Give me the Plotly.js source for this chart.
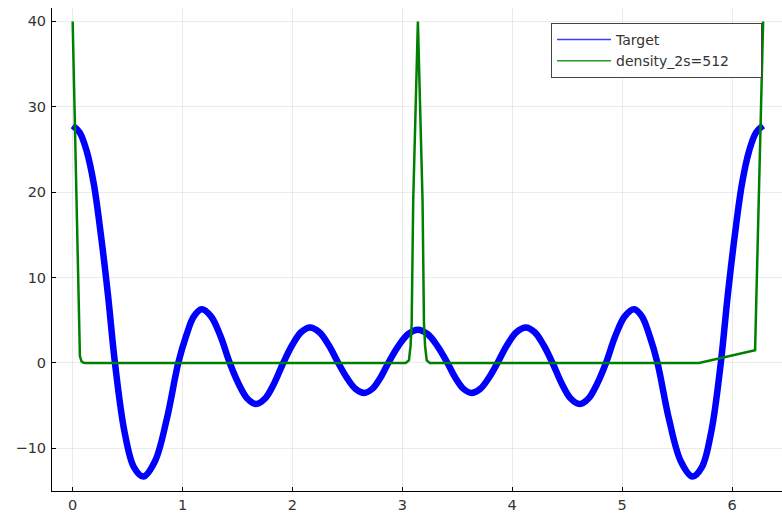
<!DOCTYPE html>
<html>
<head>
<meta charset="utf-8">
<script src="https://cdn.plot.ly/plotly-3.0.1.min.js"></script>
<style>
  html, body { margin: 0; padding: 0; background: #fff; }
  #plot { width: 782px; height: 515px; }
</style>
</head>
<body>
<div id="plot"></div>
<script>
// Target curve samples over [0, 2π]
const targetX = [
  0, 0.064, 0.128, 0.192, 0.257, 0.321, 0.385, 0.471, 0.557, 0.643, 0.749, 0.855, 0.961,
  1.032, 1.103, 1.174, 1.259, 1.345, 1.43, 1.509, 1.589, 1.668, 1.751, 1.833, 1.916,
  1.997, 2.078, 2.159, 2.245, 2.331, 2.417, 2.496, 2.574, 2.653, 2.726, 2.799, 2.872,
  2.962, 3.052, 3.1416,
  3.231, 3.321, 3.411, 3.484, 3.557, 3.630, 3.709, 3.787, 3.866, 3.952, 4.038, 4.124,
  4.205, 4.286, 4.367, 4.450, 4.532, 4.615, 4.694, 4.774, 4.853, 4.938, 5.024, 5.109,
  5.180, 5.251, 5.322, 5.428, 5.534, 5.640, 5.726, 5.812, 5.898, 5.962, 6.026, 6.091,
  6.155, 6.219, 6.2832
];
const targetY = [
  27.8, 27.0, 24.8, 21.0, 15.0, 8.0, 0, -8.0, -12.2, -13.3, -11.5, -6.65, 0,
  3.15, 5.46, 6.3, 5.46, 3.15, 0, -2.4, -4.16, -4.8, -4.16, -2.4, 0,
  2.08, 3.6, 4.16, 3.6, 2.08, 0, -1.75, -3.03, -3.5, -3.03, -1.75, 0,
  1.95, 3.38, 3.9,
  3.38, 1.95, 0, -1.75, -3.03, -3.5, -3.03, -1.75, 0, 2.08, 3.6, 4.16,
  3.6, 2.08, 0, -2.4, -4.16, -4.8, -4.16, -2.4, 0, 3.15, 5.46, 6.3,
  5.46, 3.15, 0, -6.65, -11.5, -13.3, -12.2, -8.0, 0, 8.0, 15.0, 21.0,
  24.8, 27.0, 27.8
];

// Estimated density with 2s = 512
const densityX = [
  0, 0.066, 0.08, 0.1, 0.12,
  3.03, 3.06, 3.075, 3.085, 3.099, 3.1416, 3.184, 3.197, 3.207, 3.222, 3.25,
  5.70, 6.21, 6.2832
];
const densityY = [
  40, 0.8, 0.2, 0.03, 0,
  0, 0.3, 2, 4.65, 19, 40, 19, 4.65, 2, 0.3, 0,
  0, 1.5, 40
];

const seriesNames = ["Target", "density_2s=512"];
const xTicks = [0, 1, 2, 3, 4, 5, 6];
const yTicks = [-10, 0, 10, 20, 30, 40];

const BLUE = "rgb(0,0,255)";
const GREEN = "rgb(0,128,0)";
const FONT = "DejaVu Sans";
// trailing no-break spaces widen the legend box
const PAD = "\u00a0".repeat(6);

const traces = [
  { x: targetX, y: targetY, type: "scatter", mode: "lines",
    line: { color: BLUE, width: 6.5, shape: "spline", smoothing: 1 },
    showlegend: false, hoverinfo: "skip" },
  { x: densityX, y: densityY, type: "scatter", mode: "lines",
    line: { color: GREEN, width: 2.5 },
    showlegend: false, hoverinfo: "skip" },
  // thin-line legend entries
  { x: [null], y: [null], type: "scatter", mode: "lines",
    name: seriesNames[0], line: { color: "rgb(60,60,255)", width: 1.5 } },
  { x: [null], y: [null], type: "scatter", mode: "lines",
    name: seriesNames[1] + PAD, line: { color: "rgb(40,150,40)", width: 1.5 } }
];

const axisCommon = {
  showline: true, linecolor: "#000", linewidth: 1,
  ticks: "inside", ticklen: 4, tickcolor: "#000", tickwidth: 1,
  showgrid: true, gridcolor: "rgba(0,0,0,0.08)", gridwidth: 1,
  zeroline: false, mirror: false,
  tickfont: { family: FONT, size: 14.5, color: "#333" }
};

const layout = {
  width: 782, height: 515,
  margin: { l: 52, r: 0, t: 8, b: 24 },
  paper_bgcolor: "#fff", plot_bgcolor: "#fff",
  font: { family: FONT, size: 14, color: "#333" },
  xaxis: Object.assign({}, axisCommon, {
    range: [-0.188, 6.455], tickvals: xTicks, ticktext: xTicks.map(String),
    ticklabelstandoff: 1
  }),
  yaxis: Object.assign({}, axisCommon, {
    range: [-14.99, 41.57], tickvals: yTicks,
    ticktext: yTicks.map(v => v < 0 ? "\u2212" + Math.abs(v) : String(v)),
    ticklabelstandoff: 2
  }),
  showlegend: true,
  legend: {
    x: 0.6836, y: 0.969, xanchor: "left", yanchor: "top",
    bgcolor: "#fff", bordercolor: "#444", borderwidth: 1,
    font: { family: FONT, size: 14, color: "#333" },
    itemwidth: 54, tracegroupgap: 0
  }
};

Plotly.newPlot("plot", traces, layout, { displayModeBar: false, staticPlot: true });
</script>
</body>
</html>
